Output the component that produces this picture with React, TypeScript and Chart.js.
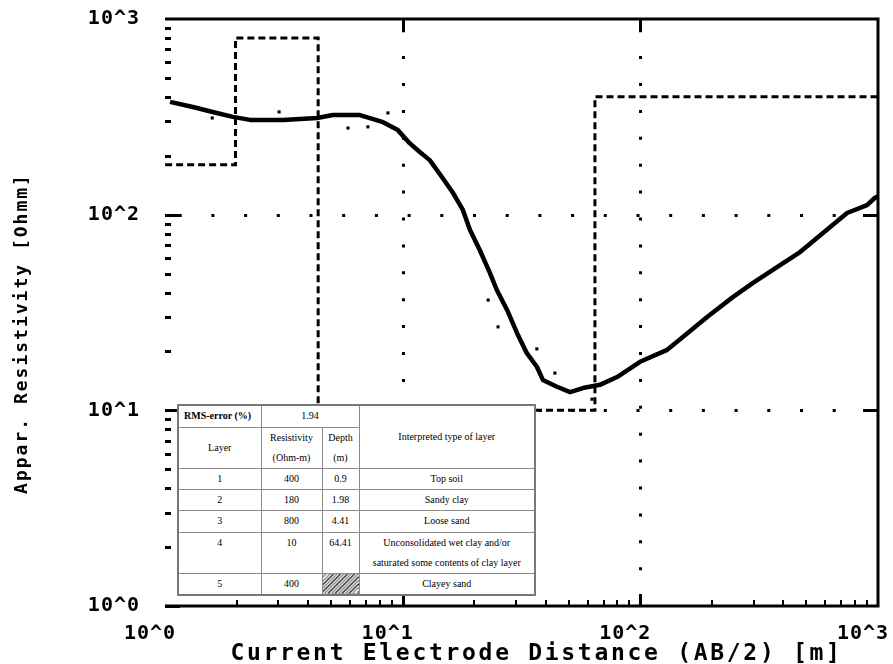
import React, { useEffect, useRef } from 'react';
import { Chart, registerables } from 'chart.js';

Chart.register(...registerables);

// Field data: current electrode half-spacing AB/2 [m] and apparent resistivity [Ohm·m]
const abHalf = [1.05, 1.31, 1.65, 1.93, 2.28, 3.14, 4.36, 5.09, 6.61, 8.27, 9.5, 10.7, 11.8, 13.0, 14.4, 16.3, 17.9, 19.2, 21.1, 23.3, 24.9, 27.5, 30.3, 33.3, 36.7, 38.9, 44.6, 50.6, 57.4, 67.6, 79.8, 99.7, 129, 151, 191, 245, 298, 376, 470, 587, 741, 899, 971, 1000];
const rhoApparent = [377, 355, 331, 316, 305, 305, 312, 323, 323, 297, 272, 232, 209, 190, 160, 129, 106, 83.5, 66, 50.3, 41.2, 32.6, 24.8, 19.6, 16.7, 14.3, 13.2, 12.4, 13.0, 13.5, 14.8, 17.7, 20.3, 23.7, 30.0, 37.9, 44.8, 54.0, 64.4, 80.5, 102, 112, 122, 124];

// Scattered individual readings
const scatterAB = [1.58, 3.02, 5.89, 7.14, 8.67, 22.9, 25.2, 36.7, 43.7, 62.6];
const scatterRho = [312, 335, 277, 281, 331, 36.6, 26.7, 20.6, 15.5, 11.4];

// Interpreted layer model
const layerNumbers = ['1', '2', '3', '4', '5'];
const layerResistivity = [400, 180, 800, 10, 400];
const layerDepth = [0.9, 1.98, 4.41, 64.41];
const layerType = ['Top soil', 'Sandy clay', 'Loose sand', 'Unconsolidated wet clay and/or|saturated some contents of clay layer', 'Clayey sand'];
const rmsError = '1.94';

const xTickValues = [1, 10, 100, 1000];
const yTickValues = [1, 10, 100, 1000];
const minorMultipliers = [2, 3, 4, 5, 6, 7, 8, 9];

const X_MIN = 1, X_MAX = 1000, Y_MIN = 1, Y_MAX = 1000;

function buildModel() {
  const pts: { x: number; y: number }[] = [];
  for (let i = 0; i < layerResistivity.length; i++) {
    const from = i === 0 ? 0.5 : layerDepth[i - 1];
    const to = i < layerDepth.length ? layerDepth[i] : X_MAX;
    pts.push({ x: from, y: layerResistivity[i] });
    pts.push({ x: to, y: layerResistivity[i] });
  }
  return pts;
}

const framePlugin = {
  id: 'sevFrame',
  beforeDraw(chart: any) {
    chart.ctx.letterSpacing = '1px';
  },
  beforeDatasetsDraw(chart: any) {
    const { ctx, chartArea, scales } = chart;
    const { left, right, top, bottom } = chartArea;
    const xs = scales.x, ys = scales.y;
    ctx.save();
    ctx.strokeStyle = '#000';
    ctx.lineCap = 'butt';

    // dotted major grid
    ctx.lineWidth = 3;
    [10, 100].forEach((v) => {
      const y = Math.round(ys.getPixelForValue(v)) + 0.5;
      ctx.setLineDash([3, 29.7]);
      ctx.lineDashOffset = 19;
      ctx.beginPath(); ctx.moveTo(left, y); ctx.lineTo(right, y); ctx.stroke();
      const x = Math.round(xs.getPixelForValue(v)) + 0.5;
      ctx.setLineDash([3, 23.9]);
      ctx.lineDashOffset = 16.7;
      ctx.beginPath(); ctx.moveTo(x, top); ctx.lineTo(x, bottom); ctx.stroke();
    });
    ctx.setLineDash([]);

    // frame (top, right, bottom)
    ctx.lineWidth = 3;
    ctx.beginPath();
    ctx.moveTo(left, top); ctx.lineTo(right, top); ctx.lineTo(right, bottom); ctx.lineTo(left, bottom);
    ctx.stroke();

    // left ticks
    for (let d = 0; d < 3; d++) {
      const base = Math.pow(10, d);
      minorMultipliers.forEach((m) => {
        const y = Math.round(ys.getPixelForValue(m * base)) + 0.5;
        ctx.beginPath(); ctx.moveTo(left, y); ctx.lineTo(left + 6, y); ctx.stroke();
      });
    }
    [1, 10, 100].forEach((v) => {
      const y = Math.round(ys.getPixelForValue(v)) + 0.5;
      ctx.beginPath(); ctx.moveTo(left, y); ctx.lineTo(left + 15, y); ctx.stroke();
    });
    // right major ticks
    [10, 100].forEach((v) => {
      const y = Math.round(ys.getPixelForValue(v)) + 0.5;
      ctx.beginPath(); ctx.moveTo(right, y); ctx.lineTo(right - 15, y); ctx.stroke();
    });

    // bottom ticks
    ctx.lineWidth = 2;
    for (let d = 0; d < 3; d++) {
      const base = Math.pow(10, d);
      minorMultipliers.forEach((m) => {
        const x = Math.round(xs.getPixelForValue(m * base));
        ctx.beginPath(); ctx.moveTo(x, bottom); ctx.lineTo(x, bottom - 6); ctx.stroke();
      });
    }
    ctx.lineWidth = 3;
    [10, 100].forEach((v) => {
      const x = Math.round(xs.getPixelForValue(v)) + 0.5;
      ctx.beginPath(); ctx.moveTo(x, bottom); ctx.lineTo(x, bottom - 12); ctx.stroke();
      ctx.beginPath(); ctx.moveTo(x, top); ctx.lineTo(x, top + 11); ctx.stroke();
    });
    ctx.restore();
  },
  afterDraw(chart: any) {
    const { ctx, chartArea } = chart;
    ctx.save();
    ctx.fillStyle = '#000';
    // x title
    ctx.letterSpacing = '2.7px';
    ctx.font = 'bold 23px "DejaVu Sans Mono"';
    ctx.textAlign = 'center';
    ctx.textBaseline = 'alphabetic';
    ctx.fillText('Current Electrode Distance (AB/2) [m]', (chartArea.left + chartArea.right) / 2 + 15, chartArea.bottom + 54);
    // y title
    ctx.letterSpacing = '2px';
    ctx.font = 'bold 18px "DejaVu Sans Mono"';
    ctx.translate(27, (chartArea.top + chartArea.bottom) / 2 + 21);
    ctx.rotate(-Math.PI / 2);
    ctx.fillText('Appar. Resistivity [Ohmm]', 0, 0);
    ctx.restore();
    ctx.letterSpacing = '0px';
  },
};

const tickFont = { family: '"DejaVu Sans Mono"', size: 20, weight: 'bold' as const };
const powerLabel = (v: any) => '10^' + Math.round(Math.log10(Number(v)));

function SevChart() {
  const ref = useRef<HTMLCanvasElement | null>(null);
  useEffect(() => {
    if (!ref.current) return;
    const fieldPts = abHalf.map((x, i) => ({ x, y: rhoApparent[i] }));
    const scatterPts = scatterAB.map((x, i) => ({ x, y: scatterRho[i] }));
    const chart = new Chart(ref.current, {
      type: 'line',
      data: {
        datasets: [
          { label: 'Model', data: buildModel(), borderColor: '#000', borderWidth: 3, borderDash: [7, 4], pointRadius: 0, fill: false, tension: 0 },
          { label: 'Field', data: fieldPts, borderColor: '#000', borderWidth: 4.5, pointRadius: 0, fill: false, tension: 0, borderJoinStyle: 'round' },
          { label: 'Scatter', data: scatterPts, showLine: false, pointStyle: 'rect', pointRadius: 2.2, backgroundColor: '#000', borderColor: '#000', borderWidth: 0 },
        ],
      } as any,
      options: {
        responsive: false,
        animation: false,
        events: [],
        layout: { padding: { top: 19, right: 15, left: 0, bottom: 0 } },
        plugins: { legend: { display: false }, tooltip: { enabled: false } },
        scales: {
          x: {
            type: 'logarithmic', min: X_MIN, max: X_MAX, position: 'bottom',
            grid: { display: false, drawTicks: false }, border: { display: false },
            ticks: { font: tickFont, color: '#000', padding: 16, labelOffset: -15, autoSkip: false, maxRotation: 0, callback: powerLabel },
            afterBuildTicks: (s: any) => { s.ticks = xTickValues.map((value) => ({ value })); },
            afterFit: (s: any) => { s.height = 58; s.paddingLeft = 0; s.paddingRight = 0; },
          },
          y: {
            type: 'logarithmic', min: Y_MIN, max: Y_MAX, position: 'left',
            grid: { display: false, drawTicks: false }, border: { display: false },
            ticks: { font: tickFont, color: '#000', padding: 25, autoSkip: false, callback: powerLabel },
            afterBuildTicks: (s: any) => { s.ticks = yTickValues.map((value) => ({ value })); },
            afterFit: (s: any) => { s.width = 165; s.paddingTop = 0; s.paddingBottom = 0; },
          },
        },
      } as any,
      plugins: [framePlugin],
    });
    return () => chart.destroy();
  }, []);
  return <canvas ref={ref} width={893} height={664} style={{ width: 893, height: 664, display: 'block' }} />;
}

const rowHeights = [22, 41, 21, 21, 22, 41, 20];

function LayerTable() {
  const cell: React.CSSProperties = { border: '1px solid #8a8a8a', padding: 0, textAlign: 'center', verticalAlign: 'middle', lineHeight: '20px', whiteSpace: 'nowrap' };
  const hatch: React.CSSProperties = { ...cell, background: 'repeating-linear-gradient(135deg, #222 0px, #222 1px, #fff 1px, #fff 2.5px)' };
  return (
    <table
      style={{
        position: 'absolute', left: 177, top: 404, width: 357, height: 190,
        borderCollapse: 'collapse', tableLayout: 'fixed', background: '#fff',
        fontFamily: '"Liberation Serif", "DejaVu Serif", serif', fontSize: 10, color: '#000',
        border: '2px solid #777',
      }}
    >
      <colgroup>
        <col style={{ width: 83 }} />
        <col style={{ width: 61 }} />
        <col style={{ width: 37 }} />
        <col style={{ width: 176 }} />
      </colgroup>
      <tbody>
        <tr style={{ height: rowHeights[0] }}>
          <td style={{ ...cell, textAlign: 'left', paddingLeft: 5, fontWeight: 'bold' }}>RMS-error (%)</td>
          <td style={cell} colSpan={2}>{rmsError}</td>
          <td style={cell} rowSpan={2}>Interpreted type of layer</td>
        </tr>
        <tr style={{ height: rowHeights[1] }}>
          <td style={cell}>Layer</td>
          <td style={cell}>Resistivity<br />(Ohm-m)</td>
          <td style={cell}>Depth<br />(m)</td>
        </tr>
        {layerNumbers.map((n, i) => {
          const lines = layerType[i].split('|');
          const multi = lines.length > 1;
          const c = multi ? { ...cell, verticalAlign: 'top' as const } : cell;
          return (
            <tr key={n} style={{ height: rowHeights[i + 2] }}>
              <td style={c}>{n}</td>
              <td style={c}>{layerResistivity[i]}</td>
              {i < layerDepth.length ? <td style={c}>{layerDepth[i]}</td> : <td style={hatch}></td>}
              <td style={c}>
                {lines.map((l, k) => (
                  <React.Fragment key={k}>{k > 0 && <br />}{l}</React.Fragment>
                ))}
              </td>
            </tr>
          );
        })}
      </tbody>
    </table>
  );
}

export default function App() {
  return (
    <div style={{ position: 'fixed', left: 0, top: 0, width: 893, height: 664, background: '#fff', overflow: 'hidden' }}>
      <SevChart />
      <LayerTable />
    </div>
  );
}
